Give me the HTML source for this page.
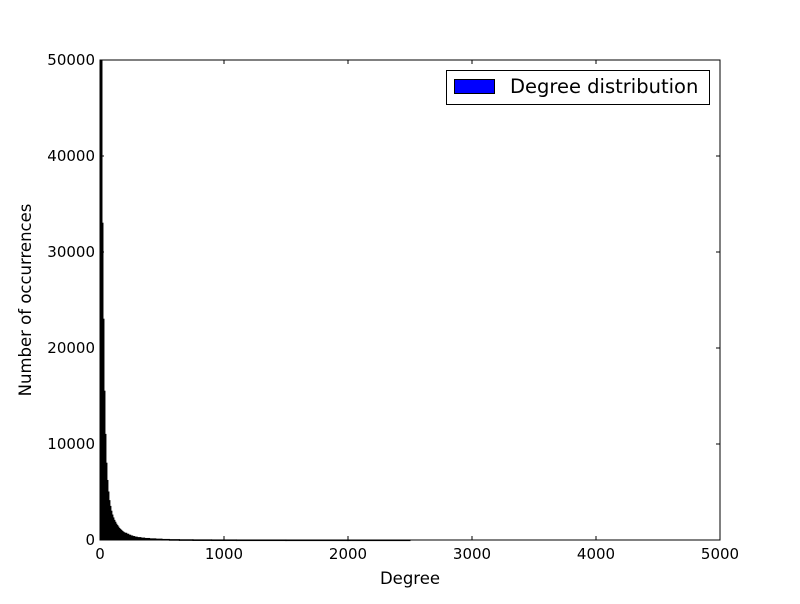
<!DOCTYPE html>
<html><head><meta charset="utf-8"><style>
body{margin:0;background:#fff;font-family:"DejaVu Sans",sans-serif}
svg text{font-family:"DejaVu Sans","Liberation Sans",sans-serif}
</style></head><body>
<svg id="c" width="800" height="600" xmlns="http://www.w3.org/2000/svg">
<rect width="800" height="600" fill="#fff"/>
<g id="bars"></g>
<rect x="100" y="60" width="620" height="480" fill="none" stroke="#000" stroke-width="1"/>
<g id="ticks"></g>
<text x="410" y="584" font-size="16.5" text-anchor="middle">Degree</text>
<text transform="translate(31,300) rotate(-90)" font-size="16.5" text-anchor="middle">Number of occurrences</text>
<g>
<rect x="446.5" y="70.5" width="263" height="34" fill="#fff" stroke="#000"/>
<rect x="454.5" y="79.5" width="40" height="14" fill="#0000ff" stroke="#000"/>
<text x="510" y="93" font-size="19.5">Degree distribution</text>
</g>
</svg>
<script>
const binStarts=[0,8,16,24,32,40,48,56,64,72,80,88,96,104,112,120,128,136,144,152,160,168,176,184,192,200,216,232,248,264,280,300,330,360,400,450,500,560,640,750,900,1100,1500,2000];
const counts=[60000,52000,33000,23000,15500,11000,8000,6200,5000,4100,3500,3000,2600,2300,2050,1850,1650,1500,1350,1200,1100,1000,900,820,750,700,600,500,420,360,300,250,200,160,120,90,60,40,25,15,8,4,2,1];
const xTicks=[0,1000,2000,3000,4000,5000];
const yTicks=[0,10000,20000,30000,40000,50000];
const X0=100,X1=720,Y0=540,Y1=60;
const sx=v=>X0+(v/5000)*(X1-X0);
const sy=v=>Y0-(Math.min(v,50000)/50000)*(Y0-Y1);
const NS="http://www.w3.org/2000/svg";
const bars=document.getElementById('bars');
for(let i=0;i<counts.length;i++){
  const a=binStarts[i],b=i+1<binStarts.length?binStarts[i+1]:a+500;
  const r=document.createElementNS(NS,'rect');
  const x=sx(a),w=Math.max(sx(b)-x,0.5),y=sy(counts[i]);
  r.setAttribute('x',x);r.setAttribute('y',y);r.setAttribute('width',w);r.setAttribute('height',Math.max(Y0-y,0.6));
  r.setAttribute('fill','#000');
  r.setAttribute('stroke','#000');
  r.setAttribute('stroke-width','1');
  
  
  bars.appendChild(r);
}
const t=document.getElementById('ticks');
function line(x1,y1,x2,y2){const l=document.createElementNS(NS,'line');l.setAttribute('x1',x1);l.setAttribute('y1',y1);l.setAttribute('x2',x2);l.setAttribute('y2',y2);l.setAttribute('stroke','#000');t.appendChild(l);}
function txt(x,y,s,anchor){const e=document.createElementNS(NS,'text');e.setAttribute('x',x);e.setAttribute('y',y);e.setAttribute('font-size','15');e.setAttribute('text-anchor',anchor);e.textContent=s;


t.appendChild(e);}
xTicks.forEach(v=>{const x=sx(v);line(x,Y0,x,Y0-4);line(x,Y1,x,Y1+4);txt(x,559,String(v),'middle');});
yTicks.forEach(v=>{const y=sy(v);line(X0,y,X0+4,y);line(X1,y,X1-4,y);txt(95,y+5,String(v),'end');});
</script>
</body></html>
